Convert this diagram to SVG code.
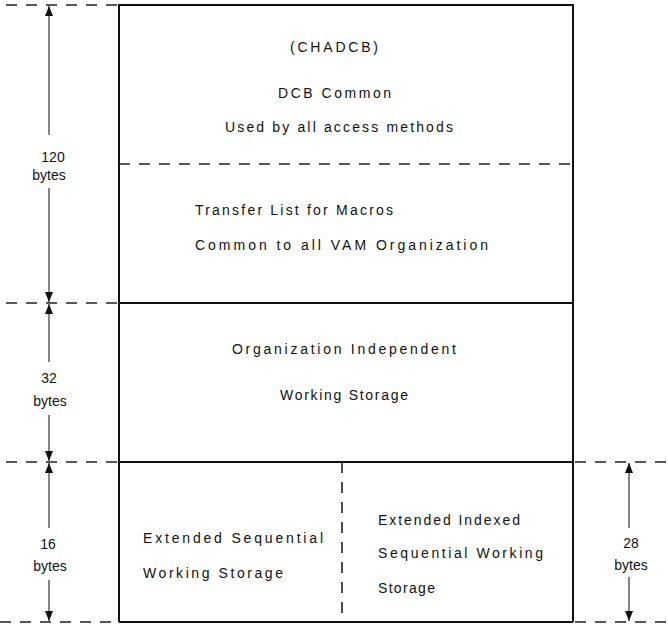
<svg xmlns="http://www.w3.org/2000/svg" width="668" height="624" viewBox="0 0 668 624">
<style>
.box{fill:none;stroke:#111;stroke-width:2}
.solid{stroke:#111;stroke-width:2;fill:none}
.dash{stroke:#222;stroke-width:1.6;stroke-dasharray:11 9;fill:none}
.dim{stroke:#333;stroke-width:1.2;fill:none}
text{font-family:"Liberation Sans","DejaVu Sans",sans-serif;font-size:14px;fill:#111}
.lbl{text-anchor:middle;font-size:14px}
</style>
<defs>
<marker id="ah" viewBox="0 0 10 8" refX="10" refY="4" markerWidth="10" markerHeight="8" markerUnits="userSpaceOnUse" orient="auto">
<path d="M0,0 L10,4 L0,8 Z" fill="#111"/>
</marker>
</defs>
<rect width="668" height="624" fill="#fff"/>
<g id="guides">
<line class="dash" x1="6" y1="5" x2="119" y2="5"/>
<line class="dash" x1="6" y1="303" x2="119" y2="303"/>
<line class="dash" x1="6" y1="462" x2="119" y2="462"/>
<line class="dash" x1="575" y1="462" x2="668" y2="462"/>
<line class="dash" x1="0" y1="622" x2="119" y2="622"/>
<line class="dash" x1="575" y1="622" x2="668" y2="622"/>
</g>
<g id="chadcb">
<path class="solid" d="M119,622 L119,5 L573,5 L573,622"/>
<line class="dash" x1="119" y1="164" x2="573" y2="164"/>
<text x="290" y="52" textLength="88" lengthAdjust="spacing">(CHADCB)</text>
<text x="278" y="98" textLength="113" lengthAdjust="spacing">DCB Common</text>
<text x="225" y="132" textLength="228" lengthAdjust="spacing">Used by all access methods</text>
<text x="195" y="215" textLength="198" lengthAdjust="spacing">Transfer List for Macros</text>
<text x="195" y="250" textLength="293" lengthAdjust="spacing">Common to all VAM Organization</text>
</g>
<g id="org-independent">
<line class="solid" x1="119" y1="303" x2="573" y2="303"/>
<text x="232" y="354" textLength="224" lengthAdjust="spacing">Organization Independent</text>
<text x="280" y="400" textLength="128" lengthAdjust="spacing">Working Storage</text>
</g>
<g id="ext-sequential">
<line class="solid" x1="119" y1="462" x2="573" y2="462"/>
<line class="solid" x1="119" y1="622" x2="573" y2="622" stroke-width="1.4"/>
<text x="143" y="543" textLength="180" lengthAdjust="spacing">Extended Sequential</text>
<text x="143" y="578" textLength="140" lengthAdjust="spacing">Working Storage</text>
</g>
<g id="ext-indexed">
<line class="dash" x1="342" y1="462" x2="342" y2="622" stroke-dasharray="14 8"/>
<text x="378" y="525" textLength="142" lengthAdjust="spacing">Extended Indexed</text>
<text x="378" y="558" textLength="165" lengthAdjust="spacing">Sequential Working</text>
<text x="378" y="593" textLength="57" lengthAdjust="spacing">Storage</text>
</g>
<g id="connectors">
<line class="dim" x1="49" y1="135" x2="49" y2="6" marker-end="url(#ah)"/>
<line class="dim" x1="49" y1="188" x2="49" y2="302" marker-end="url(#ah)"/>
<line class="dim" x1="49" y1="362" x2="49" y2="304" marker-end="url(#ah)"/>
<line class="dim" x1="49" y1="415" x2="49" y2="461" marker-end="url(#ah)"/>
<line class="dim" x1="49" y1="528" x2="49" y2="463" marker-end="url(#ah)"/>
<line class="dim" x1="49" y1="580" x2="49" y2="621" marker-end="url(#ah)"/>
<line class="dim" x1="629" y1="528" x2="629" y2="463" marker-end="url(#ah)"/>
<line class="dim" x1="629" y1="577" x2="629" y2="621" marker-end="url(#ah)"/>
</g>
<g id="labels">
<text class="lbl" x="53" y="162">120</text>
<text class="lbl" x="49" y="180">bytes</text>
<text class="lbl" x="49" y="383">32</text>
<text class="lbl" x="50" y="406">bytes</text>
<text class="lbl" x="48" y="549">16</text>
<text class="lbl" x="50" y="571">bytes</text>
<text class="lbl" x="631" y="548">28</text>
<text class="lbl" x="631" y="570">bytes</text>
</g>
</svg>
